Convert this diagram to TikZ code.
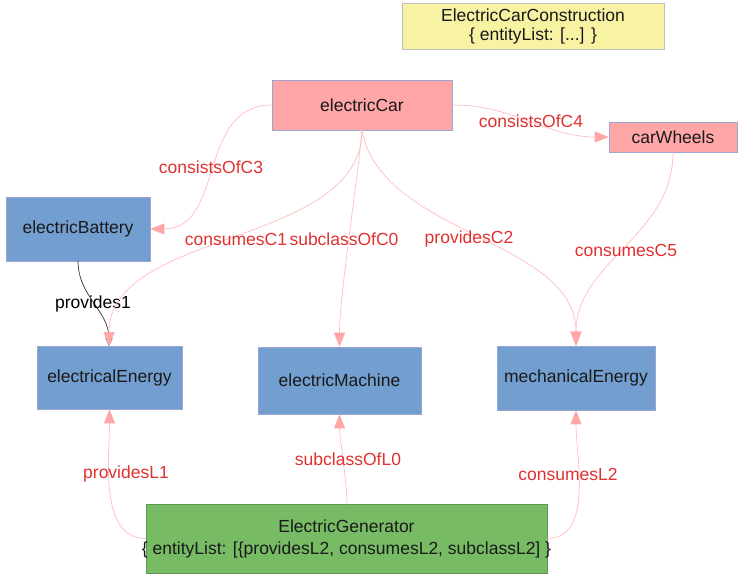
\documentclass[tikz,border=0pt]{standalone}
\usepackage{fontspec}
\setmainfont{Liberation Sans}
\usetikzlibrary{arrows.meta}
\definecolor{cblue}{HTML}{729FCF}
\definecolor{cpink}{HTML}{FFA6A6}
\definecolor{cgreen}{HTML}{77BC65}
\definecolor{cyellow}{HTML}{F7F3A3}
\definecolor{cborder}{HTML}{9AA6CF}
\definecolor{clabel}{HTML}{E0302F}
\definecolor{cedge}{HTML}{FFBDBD}
\definecolor{ctip}{HTML}{FFA6A6}
\tikzset{
  box/.style={rectangle, draw=cborder, line width=0.6pt, inner sep=0pt, align=center, font=\fontsize{17.5}{20}\selectfont, text=black!90},
  bluebox/.style={box, fill=cblue},
  pinkbox/.style={box, fill=cpink},
  rel/.style={draw=cedge, line width=0.7pt, -{Triangle[length=14pt,width=11pt,color=ctip]}},
  lbl/.style={text=clabel, font=\fontsize{17.5}{20}\selectfont, inner sep=0pt}
}
\begin{document}
\begin{tikzpicture}[x=1pt,y=-1pt]
\useasboundingbox (0,0) rectangle (738,573);
% nodes
\node[box, fill=cyellow, draw=black!25, minimum width=262pt, minimum height=46pt, font=\fontsize{17.5}{19}\selectfont] (ecc) at (533,26) {ElectricCarConstruction\\\{ entityList: [...] \}};
\node[pinkbox, minimum width=180pt, minimum height=50pt] (car) at (362,105) {electricCar};
\node[pinkbox, minimum width=128pt, minimum height=30pt] (wheels) at (673,137) {carWheels};
\node[bluebox, minimum width=144pt, minimum height=64pt] (battery) at (78,229) {electricBattery};
\node[bluebox, minimum width=145pt, minimum height=63pt] (eenergy) at (109.5,377.5) {electricalEnergy};
\node[bluebox, minimum width=163pt, minimum height=67pt] (machine) at (339.5,380.5) {electricMachine};
\node[bluebox, minimum width=158pt, minimum height=64pt] (menergy) at (576,378) {mechanicalEnergy};
\node[box, fill=cgreen, draw=cgreen!80!black, minimum width=401pt, minimum height=69pt, font=\fontsize{17.5}{22}\selectfont] (gen) at (346.5,538.5) {\makebox[380pt]{ElectricGenerator}\\\makebox[380pt]{\{ entityList: [\{providesL2, consumesL2, subclassL2] \}}};
% coordinates on borders
\coordinate (carB) at (362,130);
\coordinate (eeT) at (109,346);
\coordinate (genT) at (347,504);
% black edge
\draw[black!80, line width=0.7pt, -{Triangle[open,length=8pt,width=7pt]}] (78,261) to[out=-90,in=90] (eeT);
\node[inner sep=0pt, font=\fontsize{17.5}{20}\selectfont] (l7) at (93,304) {provides1};
% edges from electricCar
\draw[rel] (car.west) to[out=180,in=0,looseness=1.1] (battery.east);
\draw[rel] (car.east) to[out=0,in=180] (wheels.west);
\draw[rel] (carB) to[out=-90,in=90,looseness=0.9] (eeT);
\draw[rel] (carB) to[out=-95,in=90,looseness=0.6] (machine.north);
\draw[rel] (carB) to[out=-80,in=90,looseness=0.9] (menergy.north);
\draw[rel] (wheels.south) to[out=-90,in=90] (menergy.north);
% edges from generator
\draw[rel] (gen.west) to[out=180,in=-90,looseness=0.9] (eenergy.south);
\draw[rel] (genT) to[out=90,in=-90,looseness=0.6] (machine.south);
\draw[rel] (gen.east) to[out=0,in=-90,looseness=0.9] (menergy.south);
% labels
\node[lbl] (l1) at (211,167) {consistsOfC3};
\node[lbl] (l2) at (531,121) {consistsOfC4};
\node[lbl] (l3) at (236,239) {consumesC1};
\node[lbl] (l4) at (344,239) {subclassOfC0};
\node[lbl] (l5) at (469,239) {providesC2};
\node[lbl] (l6) at (626,250) {consumesC5};
\node[lbl] (l8) at (126,474) {providesL1};
\node[lbl] (l9) at (348,459) {subclassOfL0};
\node[lbl] (l10) at (568,474) {consumesL2};
\end{tikzpicture}
\end{document}
